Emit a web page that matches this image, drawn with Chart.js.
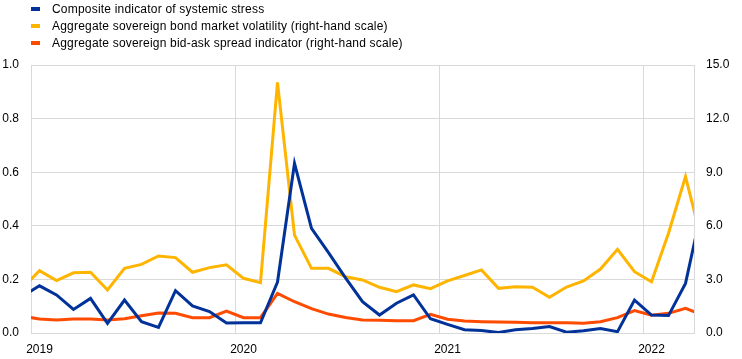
<!DOCTYPE html>
<html>
<head>
<meta charset="utf-8">
<script src="https://cdn.jsdelivr.net/npm/chart.js@4.4.1/dist/chart.umd.min.js"></script>
<style>
    html, body { margin: 0; padding: 0; background: #fff; }
    #wrap { position: relative; width: 742px; height: 359px; font-family: "Liberation Sans", Arial, sans-serif; }
    #c { position: absolute; left: 0; top: 0; }
    #legend { position: absolute; left: 31px; top: 0; font-size: 12px; letter-spacing: 0.2px; color: #000; }
    .row { height: 17px; display: flex; align-items: center; white-space: nowrap; }
    .sw { width: 9px; height: 4px; margin-right: 12px; }
</style>
</head>
<body>
<div id="wrap">
    <canvas id="c" width="742" height="359"></canvas>
    <div id="legend"></div>
</div>
<script>
// monthly observations (mid-month), first and last are cut by the axis range
const months = [
    "2018-12",
    "2019-01", "2019-02", "2019-03", "2019-04", "2019-05", "2019-06",
    "2019-07", "2019-08", "2019-09", "2019-10", "2019-11", "2019-12",
    "2020-01", "2020-02", "2020-03", "2020-04", "2020-05", "2020-06",
    "2020-07", "2020-08", "2020-09", "2020-10", "2020-11", "2020-12",
    "2021-01", "2021-02", "2021-03", "2021-04", "2021-05", "2021-06",
    "2021-07", "2021-08", "2021-09", "2021-10", "2021-11", "2021-12",
    "2022-01", "2022-02", "2022-03", "2022-04"
];

// Composite indicator of systemic stress (left-hand scale)
const stressIndex = [
    0.138,
    0.176, 0.142, 0.088, 0.129, 0.036, 0.123, 0.042, 0.021, 0.158, 0.101, 0.080, 0.037,
    0.038, 0.038, 0.190, 0.633, 0.390, 0.300, 0.206, 0.117, 0.067, 0.111, 0.142, 0.053,
    0.032, 0.012, 0.009, 0.002, 0.012, 0.017, 0.024, 0.003, 0.008, 0.017, 0.005, 0.123,
    0.067, 0.065, 0.185, 0.475
];

// Aggregate sovereign bond market volatility (right-hand scale)
const bondVolatility = [
    2.51,
    3.49, 2.93, 3.37, 3.40, 2.41, 3.62, 3.84, 4.31, 4.22, 3.40, 3.66, 3.82,
    3.06, 2.82, 14.03, 5.48, 3.62, 3.62, 3.15, 2.97, 2.56, 2.31, 2.69, 2.48,
    2.92, 3.22, 3.53, 2.50, 2.59, 2.56, 2.00, 2.57, 2.91, 3.58, 4.68, 3.43,
    2.87, 5.58, 8.75, 5.00
];

// Aggregate sovereign bid-ask spread indicator (right-hand scale)
const bidAskSpread = [
    0.94,
    0.78, 0.73, 0.78, 0.78, 0.73, 0.80, 0.97, 1.12, 1.10, 0.86, 0.86, 1.23,
    0.86, 0.86, 2.22, 1.75, 1.36, 1.06, 0.87, 0.73, 0.71, 0.68, 0.69, 1.05,
    0.77, 0.67, 0.63, 0.61, 0.60, 0.58, 0.58, 0.58, 0.54, 0.63, 0.86, 1.25,
    0.99, 1.10, 1.38, 1.00
];

const yearLabels = ["2019", "2020", "2021", "2022"];
const leftTicks = [0, 0.2, 0.4, 0.6, 0.8, 1.0];
const rightTicks = [0, 3, 6, 9, 12, 15];

const textColor = "#000000";
const gridColor = "#d9d9d9";
const font = { family: "'Liberation Sans', Arial, sans-serif", size: 12 };

// month string -> months since Jan 2019, placed mid-month
function toX(m) {
    const parts = m.split("-").map(Number);
    return (parts[0] - 2019) * 12 + (parts[1] - 1) + 0.5;
}
function yearToX(y) {
    return (Number(y) - 2019) * 12;
}
function points(vals) {
    return months.map(function (m, i) { return { x: toX(m), y: vals[i] }; });
}

const datasets = [{
    label: "Composite indicator of systemic stress",
    data: points(stressIndex),
    borderColor: "#003299",
    yAxisID: "y"
}, {
    label: "Aggregate sovereign bond market volatility (right-hand scale)",
    data: points(bondVolatility),
    borderColor: "#ffb400",
    yAxisID: "y1"
}, {
    label: "Aggregate sovereign bid-ask spread indicator (right-hand scale)",
    data: points(bidAskSpread),
    borderColor: "#ff4b00",
    yAxisID: "y1"
}];

// html legend, one item per row
const legend = document.getElementById("legend");
datasets.forEach(function (ds) {
    const row = document.createElement("div");
    row.className = "row";
    const sw = document.createElement("span");
    sw.className = "sw";
    sw.style.background = ds.borderColor;
    row.appendChild(sw);
    row.appendChild(document.createTextNode(ds.label));
    legend.appendChild(row);
});

new Chart(document.getElementById("c").getContext("2d"), {
    type: "line",
    data: { datasets: datasets },
    options: {
        responsive: false,
        animation: false,
        layout: { padding: { top: 65, left: 0, right: 0, bottom: 0 } },
        plugins: {
            legend: { display: false },
            tooltip: { enabled: false }
        },
        elements: {
            point: { radius: 0 },
            line: { borderWidth: 3, tension: 0, borderJoinStyle: "miter", borderCapStyle: "butt" }
        },
        datasets: { line: { clip: 0 } },
        scales: {
            x: {
                type: "linear",
                min: 0,
                max: 39,
                afterBuildTicks: function (s) {
                    s.ticks = yearLabels.map(function (y) { return { value: yearToX(y) }; });
                },
                afterFit: function (s) { s.height = 26; },
                ticks: {
                    callback: function (v) { return yearLabels[Math.round(v / 12)]; },
                    labelOffset: 8.5,
                    padding: 9,
                    maxRotation: 0,
                    autoSkip: false,
                    color: textColor,
                    font: font
                },
                grid: { color: gridColor, drawTicks: false },
                border: { color: gridColor }
            },
            y: {
                position: "left",
                min: 0,
                max: 1,
                afterBuildTicks: function (s) {
                    s.ticks = leftTicks.map(function (v) { return { value: v }; });
                },
                afterFit: function (s) { s.width = 31; },
                ticks: {
                    callback: function (v) { return v.toFixed(1); },
                    padding: 12,
                    color: textColor,
                    font: font
                },
                grid: { color: gridColor, drawTicks: false },
                border: { color: gridColor }
            },
            y1: {
                position: "right",
                min: 0,
                max: 15,
                afterBuildTicks: function (s) {
                    s.ticks = rightTicks.map(function (v) { return { value: v }; });
                },
                afterFit: function (s) { s.width = 48; },
                ticks: {
                    callback: function (v) { return v.toFixed(1); },
                    padding: 12,
                    color: textColor,
                    font: font
                },
                grid: { display: false, drawTicks: false },
                border: { color: gridColor }
            }
        }
    }
});
</script>
</body>
</html>
